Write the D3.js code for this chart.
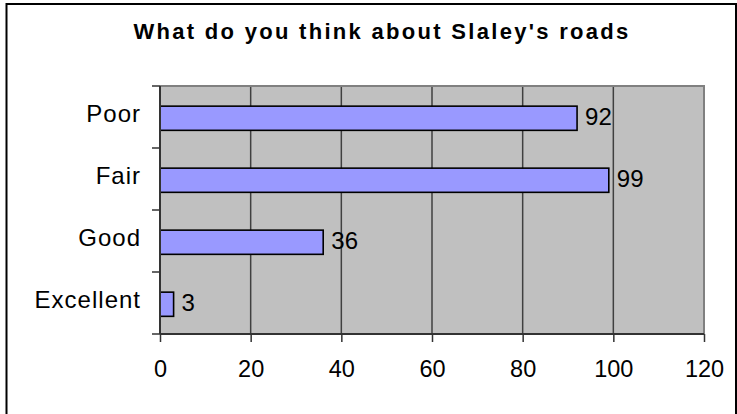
<!DOCTYPE html>
<html>
<head>
<meta charset="utf-8">
<script src="https://cdn.jsdelivr.net/npm/d3@7"></script>
<style>
html,body{margin:0;padding:0;background:#fff;}
svg{display:block;font-family:"Liberation Sans",Arial,sans-serif;}
</style>
</head>
<body>
<svg id="chart" width="737" height="414"></svg>
<script>
const titleText = "What do you think about Slaley's roads";
const categories = ["Poor", "Fair", "Good", "Excellent"];
const values = [92, 99, 36, 3];
const xTicks = [0, 20, 40, 60, 80, 100, 120];

const svg = d3.select("#chart");
const plot = {left: 160, right: 704, top: 86, bottom: 334};

// outer border
svg.append("rect").attr("x", 6.5).attr("y", 4).attr("width", 729.5).attr("height", 440)
  .attr("fill", "#fff").attr("stroke", "#000").attr("stroke-width", 2);

const x = d3.scaleLinear().domain([0, 120]).range([plot.left, plot.right]);
const y = d3.scaleBand().domain(categories).range([plot.top, plot.bottom]).padding(0);

// plot background
svg.append("rect").attr("x", plot.left).attr("y", plot.top)
  .attr("width", plot.right - plot.left).attr("height", plot.bottom - plot.top)
  .attr("fill", "#c0c0c0");

// gridlines
svg.append("g").selectAll("line").data(xTicks.filter(t => t > 0 && t < 120)).join("line")
  .attr("x1", d => x(d)).attr("x2", d => x(d))
  .attr("y1", plot.top).attr("y2", plot.bottom)
  .attr("stroke", "#404040").attr("stroke-width", 1.5);

// plot border top/right
svg.append("path")
  .attr("d", `M${plot.left},${plot.top}H${plot.right}V${plot.bottom}`)
  .attr("fill", "none").attr("stroke", "#808080").attr("stroke-width", 2);

// bars
const bw = y.bandwidth();
svg.append("g").selectAll("rect").data(values).join("rect")
  .attr("x", x(0))
  .attr("y", (d, i) => y(categories[i]) + bw * 0.325)
  .attr("width", d => x(d) - x(0))
  .attr("height", bw * 0.39)
  .attr("fill", "#9999ff").attr("stroke", "#000").attr("stroke-width", 1.6);

// data labels
svg.append("g").selectAll("text").data(values).join("text")
  .attr("x", d => x(d) + 8)
  .attr("y", (d, i) => y(categories[i]) + bw / 2 + 8)
  .attr("font-size", 24).attr("letter-spacing", 0.2).attr("fill", "#000")
  .text(d => d);

// y axis (categories)
const yAxis = d3.axisLeft(y).tickSize(0).tickPadding(0).tickFormat("");
const gy = svg.append("g").attr("transform", `translate(${plot.left},0)`).call(yAxis);
gy.select(".domain").remove();
svg.append("g").selectAll("line").data(categories.concat(["__end"])).join("line")
  .attr("x1", plot.left - 8).attr("x2", plot.left)
  .attr("y1", (d, i) => i < categories.length ? y(d) : plot.bottom)
  .attr("y2", (d, i) => i < categories.length ? y(d) : plot.bottom)
  .attr("stroke", "#333").attr("stroke-width", 1.5);
svg.append("g").selectAll("text").data(categories).join("text")
  .attr("x", 141).attr("y", d => y(d) + bw / 2 + 4.5)
  .attr("text-anchor", "end")
  .attr("font-size", 24).attr("letter-spacing", 1).attr("fill", "#000")
  .text(d => d);
svg.append("line").attr("x1", plot.left).attr("x2", plot.left)
  .attr("y1", plot.top).attr("y2", plot.bottom)
  .attr("stroke", "#333").attr("stroke-width", 2);

// x axis
const xAxis = d3.axisBottom(x).tickValues(xTicks).tickSize(8).tickPadding(0).tickFormat(d3.format("d"));
const gx = svg.append("g").attr("transform", `translate(0,${plot.bottom})`).call(xAxis);
gx.select(".domain").attr("d", `M${plot.left},0H${plot.right}`).attr("stroke", "#333").attr("stroke-width", 2);
gx.selectAll(".tick line").attr("stroke", "#333").attr("stroke-width", 1.5);
gx.selectAll(".tick text").attr("y", 43).attr("dy", 0)
  .attr("font-size", 23.5).attr("font-family", "Liberation Sans, Arial, sans-serif")
  .attr("fill", "#000").attr("letter-spacing", 0);

// title
svg.append("text").attr("x", 382).attr("y", 38.5)
  .attr("text-anchor", "middle").attr("font-size", 22).attr("font-weight", "bold")
  .attr("letter-spacing", 2.3).attr("fill", "#000")
  .text(titleText);
</script>
</body>
</html>
